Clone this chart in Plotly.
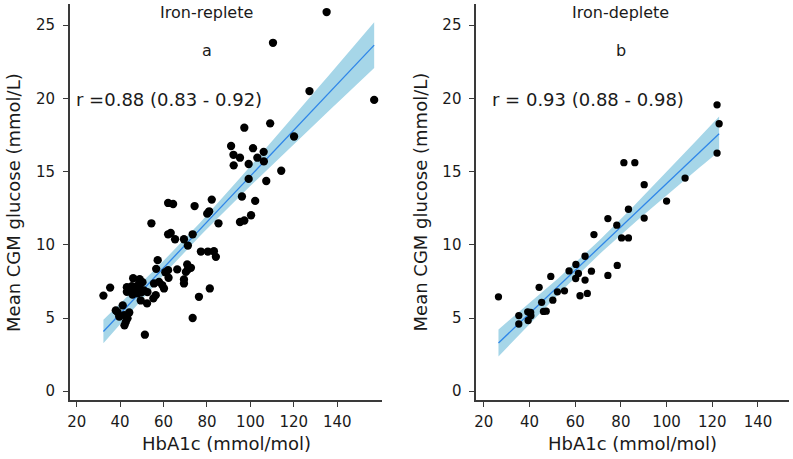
import numpy as np
import plotly.graph_objects as go

# ---------------- data ----------------
replete_hba1c = [135.1, 110.4, 127.2, 157.0, 97.2, 109.1, 120.1, 91.1, 101.2, 106.1, 92.2, 95.2, 103.2,
                 106.2, 92.3, 99.2, 114.2, 99.2, 107.3, 96.1, 102.2, 82.2, 74.3, 62.1, 64.4, 81.0, 80.1,
                 100.3, 54.4, 85.3, 95.2, 97.2, 62.1, 63.3, 65.3, 69.4, 73.4,
                 71.2, 77.2, 80.4, 83.2, 84.1, 57.3, 56.6, 62.1, 66.3, 70.9, 71.2, 72.6, 70.3, 60.8, 62.3,
                 46.0, 49.0, 35.4, 43.1, 44.2, 45.4, 46.5, 47.7, 48.8, 50.3, 49.2, 50.0, 51.0, 52.6,
                 55.6, 57.9, 59.4, 60.2, 43.1, 45.7, 48.0, 49.5, 52.4, 55.3, 56.4, 32.3,
                 69.4, 69.4, 81.3, 76.3, 73.4, 41.2, 38.0, 38.8, 39.6, 41.9, 44.2, 43.4, 42.6, 42.0, 51.4]
replete_glucose = [25.9, 23.8, 20.5, 19.9, 18.0, 18.3, 17.4, 16.75, 16.6, 16.35, 16.15, 15.95, 15.95,
                   15.7, 15.43, 15.52, 15.06, 14.5, 14.36, 13.3, 13.0, 13.09, 12.65, 12.86, 12.79, 12.29, 12.13,
                   12.02, 11.47, 11.47, 11.56, 11.66, 10.72, 10.81, 10.38, 10.38, 10.72,
                   9.95, 9.54, 9.54, 9.56, 9.18, 8.95, 8.36, 8.27, 8.32, 8.66, 8.32, 8.43, 8.15, 8.13, 7.75,
                   7.72, 7.66, 7.08, 7.11, 7.0, 7.18, 7.04, 7.18, 7.34, 7.45, 7.0, 6.77, 6.88, 6.77,
                   7.36, 7.47, 7.25, 7.02, 6.79, 6.6, 6.68, 6.2, 6.0, 6.34, 6.56, 6.53,
                   7.63, 7.36, 7.02, 6.45, 5.0, 5.86, 5.52, 5.4, 5.1, 5.2, 5.38, 4.98, 4.72, 4.5, 3.86]

deplete_hba1c = [122.1, 123.0, 122.1, 81.3, 86.1, 108.1, 90.2, 100.0, 83.3, 74.3, 90.2, 78.2, 68.2, 80.3,
                 83.3, 64.3, 60.3, 78.4, 57.3, 67.1, 61.4, 74.3, 49.3, 60.2, 64.3, 44.2, 55.3, 52.2, 65.3,
                 62.1, 26.4, 50.2, 45.3, 46.1, 47.3, 39.2, 40.5, 40.6, 35.3, 35.3, 39.4]
deplete_glucose = [19.56, 18.27, 16.27, 15.61, 15.61, 14.56, 14.11, 12.99, 12.43, 11.79, 11.83, 11.34, 10.7,
                   10.47, 10.47, 9.22, 8.66, 8.59, 8.22, 8.2, 8.04, 7.91, 7.84, 7.7, 7.59, 7.1, 6.86, 6.79,
                   6.68, 6.52, 6.45, 6.22, 6.07, 5.45, 5.47, 5.42, 5.38, 5.15, 5.17, 4.59, 4.83]

panel_titles = ["Iron-replete", "Iron-deplete"]
panel_letters = ["a", "b"]
r_labels = ["r =0.88 (0.83 - 0.92)", "r = 0.93 (0.88 - 0.98)"]
x_ticks = [20, 40, 60, 80, 100, 120, 140]
y_ticks = [0, 5, 10, 15, 20, 25]

FONT = "DejaVu Sans"
AXC = "#3a3a3a"
TXT = "#1a1a1a"
BAND = "#a6d6e8"
LINE = "#2f86e8"


def fit_ci(x, y, tcrit):
    x = np.asarray(x, float)
    y = np.asarray(y, float)
    n = len(x)
    b, a = np.polyfit(x, y, 1)
    resid = y - (a + b * x)
    s = np.sqrt(np.sum(resid ** 2) / (n - 2))
    xm = x.mean()
    sxx = np.sum((x - xm) ** 2)
    xs = np.linspace(x.min(), x.max(), 60)
    yh = a + b * xs
    se = s * np.sqrt(1.0 / n + (xs - xm) ** 2 / sxx)
    return xs, yh, yh - tcrit * se, yh + tcrit * se


fig = go.Figure()

panels = [
    (replete_hba1c, replete_glucose, 1.985, "x", "y", 8.3),
    (deplete_hba1c, deplete_glucose, 2.023, "x2", "y2", 7.3),
]
for (hx, gy, tc, xa, ya, msize) in panels:
    xs, yh, lo, hi = fit_ci(hx, gy, tc)
    fig.add_trace(go.Scatter(x=xs, y=hi, mode="lines", line=dict(width=0, color=BAND),
                             xaxis=xa, yaxis=ya, showlegend=False, hoverinfo="skip"))
    fig.add_trace(go.Scatter(x=xs, y=lo, mode="lines", line=dict(width=0, color=BAND),
                             fill="tonexty", fillcolor=BAND,
                             xaxis=xa, yaxis=ya, showlegend=False, hoverinfo="skip"))
    fig.add_trace(go.Scatter(x=xs, y=yh, mode="lines", line=dict(width=1.3, color=LINE),
                             xaxis=xa, yaxis=ya, showlegend=False))
    fig.add_trace(go.Scatter(x=hx, y=gy, mode="markers",
                             marker=dict(size=msize, color="black", line=dict(width=0)),
                             xaxis=xa, yaxis=ya, showlegend=False))

W, H = 793, 459
left_dom = [67 / W, 380 / W]
right_dom = [475 / W, 789 / W]
y_dom = [1 - 400 / H, 1 - 4 / H]

axis_common = dict(showgrid=False, zeroline=False, showline=True, linecolor=AXC, linewidth=1.5,
                   ticks="outside", ticklen=5, tickwidth=1.3, tickcolor=AXC,
                   tickfont=dict(family=FONT, size=15, color=TXT))

fig.update_layout(
    width=W, height=H, margin=dict(l=0, r=0, t=0, b=0),
    paper_bgcolor="white", plot_bgcolor="white",
    xaxis=dict(domain=left_dom, range=[16.8, 160.4], tickvals=x_ticks, anchor="y",
               ticklabelstandoff=2, **axis_common),
    yaxis=dict(domain=y_dom, range=[-0.6, 26.45], tickvals=y_ticks, anchor="x",
               ticklabelstandoff=5, **axis_common),
    xaxis2=dict(domain=right_dom, range=[16.65, 153.6], tickvals=x_ticks, anchor="y2",
                ticklabelstandoff=2, **axis_common),
    yaxis2=dict(domain=y_dom, range=[-0.6, 26.45], tickvals=y_ticks, anchor="x2",
                ticklabelstandoff=5, **axis_common),
)

annots = []
for i, (xr, yr) in enumerate([("x", "y"), ("x2", "y2")]):
    annots.append(dict(x=80, y=25.86, xref=xr, yref=yr, text=panel_titles[i], showarrow=False,
                       font=dict(family=FONT, size=16, color=TXT)))
    annots.append(dict(x=80, y=23.3, xref=xr, yref=yr, text=panel_letters[i], showarrow=False,
                       font=dict(family=FONT, size=16, color=TXT)))
    rx = 18.7 if i == 0 else 22.6
    annots.append(dict(x=rx, y=19.9, xref=xr, yref=yr, text=r_labels[i], showarrow=False,
                       xanchor="left", font=dict(family=FONT, size=18, color=TXT)))

# axis titles
common_t = dict(xref="paper", yref="paper", showarrow=False, xanchor="center", yanchor="middle",
                font=dict(family=FONT, size=18, color=TXT))
annots.append(dict(x=224 / W, y=1 - 443 / H, text="HbA1c (mmol/mol)", **common_t))
annots.append(dict(x=632 / W, y=1 - 443 / H, text="HbA1c (mmol/mol)", **common_t))
annots.append(dict(x=11 / W, y=1 - 202 / H, text="Mean CGM glucose (mmol/L)", textangle=-90, **common_t))
annots.append(dict(x=420 / W, y=1 - 202 / H, text="Mean CGM glucose (mmol/L)", textangle=-90, **common_t))

fig.update_layout(annotations=annots)
fig.write_html("out.html")
